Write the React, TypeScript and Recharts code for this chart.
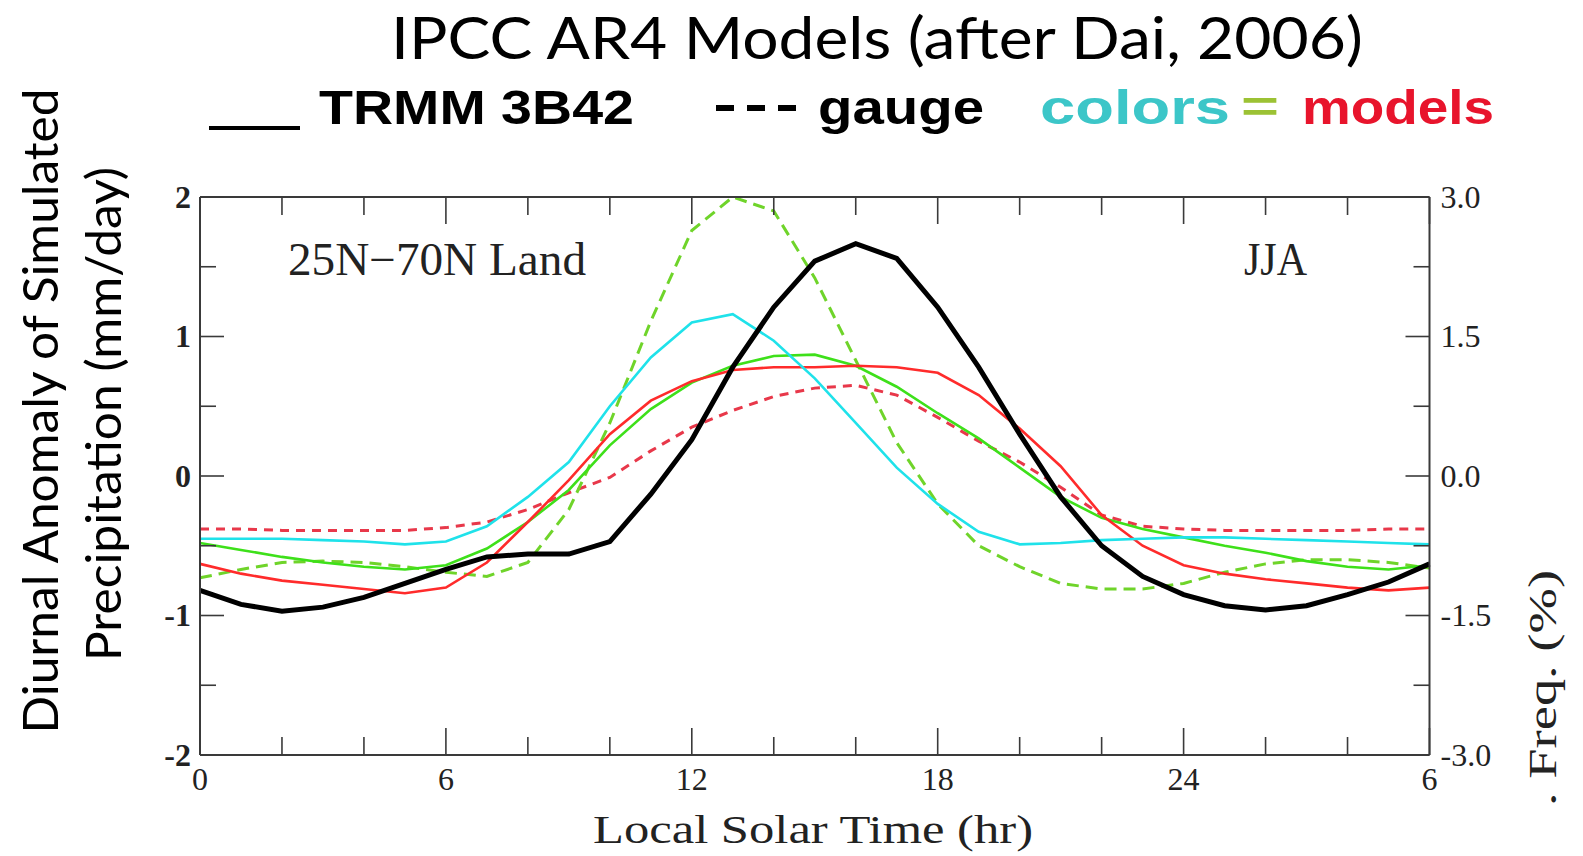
import React from 'react';
import { LineChart, Line, XAxis, YAxis } from 'recharts';

// local solar time, hours 0..30 (wraps past midnight)
const hours = [0, 1, 2, 3, 4, 5, 6, 7, 8, 9, 10, 11, 12, 13, 14, 15, 16, 17, 18, 19, 20, 21, 22, 23, 24, 25, 26, 27, 28, 29, 30];

const trmm = [-0.82, -0.92, -0.97, -0.94, -0.87, -0.77, -0.67, -0.58, -0.56, -0.56, -0.47, -0.13, 0.26, 0.78, 1.21, 1.54, 1.665, 1.56, 1.21, 0.78, 0.3, -0.15, -0.5, -0.72, -0.85, -0.93, -0.96, -0.93, -0.85, -0.76, -0.63];
const cyanModel = [-0.45, -0.45, -0.45, -0.46, -0.47, -0.49, -0.47, -0.36, -0.15, 0.1, 0.5, 0.85, 1.1, 1.16, 0.97, 0.7, 0.38, 0.06, -0.2, -0.4, -0.49, -0.48, -0.46, -0.45, -0.44, -0.44, -0.45, -0.46, -0.47, -0.48, -0.49];
const redModel = [-0.63, -0.7, -0.75, -0.78, -0.81, -0.84, -0.8, -0.62, -0.33, -0.03, 0.3, 0.54, 0.68, 0.76, 0.78, 0.78, 0.79, 0.78, 0.74, 0.58, 0.34, 0.07, -0.28, -0.5, -0.64, -0.7, -0.74, -0.77, -0.8, -0.82, -0.8];
const greenModel = [-0.48, -0.53, -0.58, -0.62, -0.65, -0.67, -0.64, -0.52, -0.33, -0.1, 0.22, 0.48, 0.67, 0.79, 0.86, 0.87, 0.79, 0.64, 0.45, 0.27, 0.06, -0.15, -0.3, -0.38, -0.44, -0.5, -0.55, -0.61, -0.65, -0.67, -0.64];
const greenDashed = [-0.73, -0.67, -0.62, -0.61, -0.62, -0.65, -0.69, -0.72, -0.62, -0.24, 0.38, 1.11, 1.76, 2.0, 1.9, 1.42, 0.83, 0.24, -0.2, -0.5, -0.65, -0.77, -0.81, -0.81, -0.77, -0.69, -0.63, -0.6, -0.6, -0.62, -0.66];
const redDashed = [-0.38, -0.38, -0.39, -0.39, -0.39, -0.39, -0.37, -0.33, -0.24, -0.12, -0.01, 0.18, 0.35, 0.47, 0.57, 0.63, 0.65, 0.58, 0.42, 0.25, 0.1, -0.08, -0.28, -0.36, -0.38, -0.39, -0.39, -0.39, -0.39, -0.38, -0.38];

const xTicks = [0, 2, 4, 6, 8, 10, 12, 14, 16, 18, 20, 22, 24, 26, 28, 30];
const xTickLabels: Record<number, string> = { 0: '0', 6: '6', 12: '12', 18: '18', 24: '24', 30: '6' };
const leftTicks = [-2, -1.5, -1, -0.5, 0, 0.5, 1, 1.5, 2];
const leftTickLabels: Record<string, string> = { '-2': '-2', '-1': '-1', '0': '0', '1': '1', '2': '2' };
const rightTicks = [-3, -2.25, -1.5, -0.75, 0, 0.75, 1.5, 2.25, 3];
const rightTickLabels: Record<string, string> = { '-3': '-3.0', '-1.5': '-1.5', '0': '0.0', '1.5': '1.5', '3': '3.0' };

const data = hours.map((h, i) => ({
    hour: h,
    trmm: trmm[i],
    cyan: cyanModel[i],
    red: redModel[i],
    green: greenModel[i],
    greenDash: greenDashed[i],
    redDash: redDashed[i],
}));

const FRAME = '#3a3a3a';
const SERIF = '"Liberation Serif", "DejaVu Serif", serif';

const BottomTick = (p: any) => {
    const h = p.payload.value;
    const major = h % 6 === 0;
    return (
        <g>
            <line x1={p.x} x2={p.x} y1={p.y} y2={p.y - (major ? 27 : 18)} stroke={FRAME} strokeWidth={1.6} />
            {major && (
                <text x={p.x} y={p.y + 35} textAnchor="middle" fontFamily={SERIF} fontSize={32} fill="#222">
                    {xTickLabels[h]}
                </text>
            )}
        </g>
    );
};

const TopTick = (p: any) => {
    const h = p.payload.value;
    const major = h % 6 === 0;
    return <line x1={p.x} x2={p.x} y1={p.y} y2={p.y + (major ? 27 : 18)} stroke={FRAME} strokeWidth={1.6} />;
};

const LeftTick = (p: any) => {
    const v = p.payload.value;
    const label = leftTickLabels[String(v)];
    return (
        <g>
            <line x1={p.x} x2={p.x + (label ? 24 : 16)} y1={p.y} y2={p.y} stroke={FRAME} strokeWidth={1.6} />
            {label && (
                <text x={p.x - 9} y={p.y} dy="0.34em" textAnchor="end" fontFamily={SERIF} fontSize={32} fontWeight={600} fill="#222">
                    {label}
                </text>
            )}
        </g>
    );
};

const RightTick = (p: any) => {
    const v = p.payload.value;
    const label = rightTickLabels[String(v)];
    return (
        <g>
            <line x1={p.x} x2={p.x - (label ? 24 : 16)} y1={p.y} y2={p.y} stroke={FRAME} strokeWidth={1.6} />
            {label && (
                <text x={p.x + 11} y={p.y} dy="0.34em" textAnchor="start" fontFamily={SERIF} fontSize={32} fill="#222">
                    {label}
                </text>
            )}
        </g>
    );
};

export default function App() {
    return (
        <div style={{ position: 'absolute', left: 0, top: 0, width: 1583, height: 856, background: '#fff' }}>
            <LineChart width={1583} height={856} data={data} margin={{ top: 187, right: 93.5, bottom: 71, left: 140 }}>
                <XAxis
                    xAxisId="b"
                    dataKey="hour"
                    type="number"
                    domain={[0, 30]}
                    ticks={xTicks}
                    interval={0}
                    height={30}
                    tickSize={0}
                    tickMargin={0}
                    axisLine={{ stroke: FRAME, strokeWidth: 2 }}
                    tick={(p: any) => <BottomTick {...p} />}
                />
                <XAxis
                    xAxisId="t"
                    orientation="top"
                    dataKey="hour"
                    type="number"
                    domain={[0, 30]}
                    ticks={xTicks}
                    interval={0}
                    height={10}
                    tickSize={0}
                    tickMargin={0}
                    axisLine={{ stroke: FRAME, strokeWidth: 2 }}
                    tick={(p: any) => <TopTick {...p} />}
                />
                <YAxis
                    yAxisId="l"
                    type="number"
                    domain={[-2, 2]}
                    ticks={leftTicks}
                    interval={0}
                    width={60}
                    tickSize={0}
                    tickMargin={0}
                    allowDataOverflow
                    axisLine={{ stroke: FRAME, strokeWidth: 2 }}
                    tick={(p: any) => <LeftTick {...p} />}
                />
                <YAxis
                    yAxisId="r"
                    orientation="right"
                    type="number"
                    domain={[-3, 3]}
                    ticks={rightTicks}
                    interval={0}
                    width={60}
                    tickSize={0}
                    tickMargin={0}
                    allowDataOverflow
                    axisLine={{ stroke: FRAME, strokeWidth: 2 }}
                    tick={(p: any) => <RightTick {...p} />}
                />
                <Line xAxisId="b" yAxisId="l" type="linear" dataKey="redDash" stroke="#e8384a" strokeWidth={3} strokeDasharray="9 7" dot={false} isAnimationActive={false} />
                <Line xAxisId="b" yAxisId="l" type="linear" dataKey="greenDash" stroke="#6fd42a" strokeWidth={3} strokeDasharray="12 7" dot={false} isAnimationActive={false} />
                <Line xAxisId="b" yAxisId="l" type="linear" dataKey="green" stroke="#3ee01a" strokeWidth={2.6} dot={false} isAnimationActive={false} />
                <Line xAxisId="b" yAxisId="l" type="linear" dataKey="red" stroke="#ff2b2b" strokeWidth={2.6} dot={false} isAnimationActive={false} />
                <Line xAxisId="b" yAxisId="l" type="linear" dataKey="cyan" stroke="#1fe2ea" strokeWidth={2.6} dot={false} isAnimationActive={false} />
                <Line xAxisId="b" yAxisId="l" type="linear" dataKey="trmm" stroke="#000" strokeWidth={5} dot={false} isAnimationActive={false} />
            </LineChart>

            <svg width={1583} height={856} style={{ position: 'absolute', left: 0, top: 0, pointerEvents: 'none' }}>
                {/* title */}
                <text x={877} y={59} textAnchor="middle" fontFamily="Lato, 'Open Sans', sans-serif" fontSize={58} textLength={972} lengthAdjust="spacingAndGlyphs" fill="#000">
                    IPCC AR4 Models (after Dai, 2006)
                </text>

                {/* legend row */}
                <rect x={209} y={126} width={91} height={4} fill="#000" />
                <text x={319} y={124} fontFamily="'Liberation Sans', Arial, sans-serif" fontWeight={700} fontSize={49} textLength={315} lengthAdjust="spacingAndGlyphs" fill="#000">TRMM 3B42</text>
                <rect x={716} y={105} width={18} height={6} fill="#000" />
                <rect x={747} y={105} width={18} height={6} fill="#000" />
                <rect x={778} y={105} width={18} height={6} fill="#000" />
                <text x={818} y={124} fontFamily="'Liberation Sans', Arial, sans-serif" fontWeight={700} fontSize={49} textLength={166} lengthAdjust="spacingAndGlyphs" fill="#000">gauge</text>
                <text x={1040} y={124} fontFamily="'Liberation Sans', Arial, sans-serif" fontWeight={700} fontSize={49} textLength={190} lengthAdjust="spacingAndGlyphs" fill="#3cc6c8">colors</text>
                <text x={1241} y={122} fontFamily="'Liberation Sans', Arial, sans-serif" fontWeight={700} fontSize={44} textLength={38} lengthAdjust="spacingAndGlyphs" fill="#9cc234">=</text>
                <text x={1302} y={124} fontFamily="'Liberation Sans', Arial, sans-serif" fontWeight={700} fontSize={49} textLength={192} lengthAdjust="spacingAndGlyphs" fill="#e8142c">models</text>

                {/* y axis title */}
                <text transform="translate(58,411) rotate(-90)" textAnchor="middle" fontFamily="Lato, 'Open Sans', sans-serif" fontSize={48} textLength={645} lengthAdjust="spacingAndGlyphs" fill="#000">
                    Diurnal Anomaly of Simulated
                </text>
                <text transform="translate(121,414) rotate(-90)" textAnchor="middle" fontFamily="Lato, 'Open Sans', sans-serif" fontSize={48} textLength={494} lengthAdjust="spacingAndGlyphs" fill="#000">
                    Precipitation (mm/day)
                </text>

                {/* right axis title */}
                <text transform="translate(1556,688) rotate(-90)" textAnchor="middle" fontFamily={SERIF} fontSize={40} textLength={236} lengthAdjust="spacingAndGlyphs" fill="#222">
                    . Freq. (%)
                </text>

                {/* x axis title */}
                <text x={813} y={843} textAnchor="middle" fontFamily={SERIF} fontSize={41} textLength={440} lengthAdjust="spacingAndGlyphs" fill="#222">
                    Local Solar Time (hr)
                </text>

                {/* in-plot annotations */}
                <text x={288} y={275} fontFamily={SERIF} fontSize={46} textLength={298} lengthAdjust="spacingAndGlyphs" fill="#222">25N−70N Land</text>
                <text x={1244} y={275} fontFamily={SERIF} fontSize={46} textLength={63} lengthAdjust="spacingAndGlyphs" fill="#222">JJA</text>
            </svg>
        </div>
    );
}
